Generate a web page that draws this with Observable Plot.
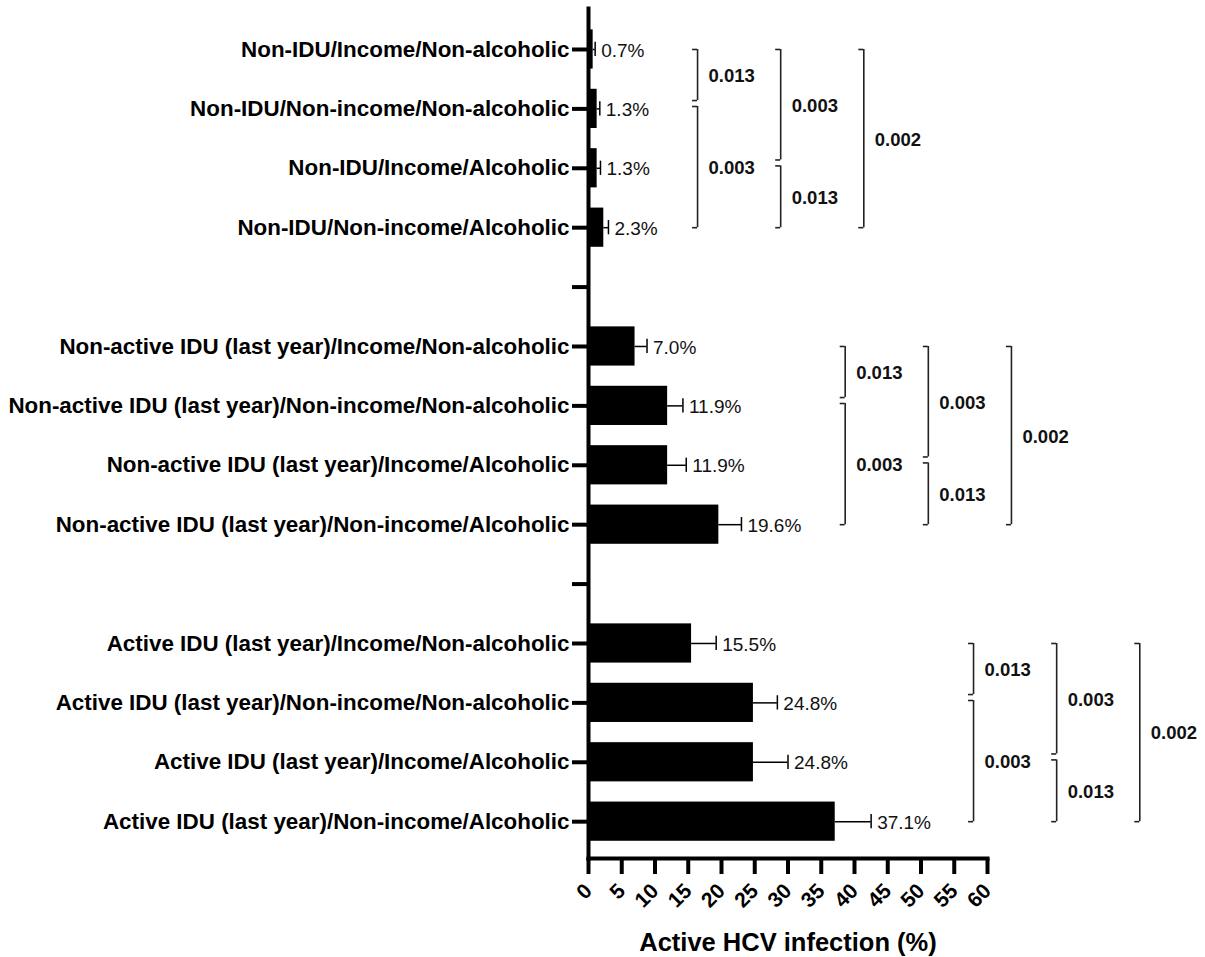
<!DOCTYPE html>
<html>
<head>
<meta charset="utf-8">
<script src="https://cdn.jsdelivr.net/npm/d3@7"></script>
<script src="https://cdn.jsdelivr.net/npm/@observablehq/plot@0.6"></script>
<style>
  html, body { margin: 0; padding: 0; background: #fff; }
  #chart svg { display: block; }
</style>
</head>
<body>
<div id="chart"></div>
<script>
// Row labels (top to bottom), "" marks the empty gap rows between groups
const rowLabels = [
  "Non-IDU/Income/Non-alcoholic",
  "Non-IDU/Non-income/Non-alcoholic",
  "Non-IDU/Income/Alcoholic",
  "Non-IDU/Non-income/Alcoholic",
  "",
  "Non-active IDU (last year)/Income/Non-alcoholic",
  "Non-active IDU (last year)/Non-income/Non-alcoholic",
  "Non-active IDU (last year)/Income/Alcoholic",
  "Non-active IDU (last year)/Non-income/Alcoholic",
  "",
  "Active IDU (last year)/Income/Non-alcoholic",
  "Active IDU (last year)/Non-income/Non-alcoholic",
  "Active IDU (last year)/Income/Alcoholic",
  "Active IDU (last year)/Non-income/Alcoholic"
];
// Active HCV infection (%) per non-empty row
const values   = [0.7, 1.3, 1.3, 2.3, 7.0, 11.9, 11.9, 19.6, 15.5, 24.8, 24.8, 37.1];
// upper end of the error bars
const upper    = [1.0, 1.7, 1.8, 3.0, 8.8, 14.2, 14.7, 23.0, 19.2, 28.4, 30.0, 42.5];
const xTicks   = [0, 5, 10, 15, 20, 25, 30, 35, 40, 45, 50, 55, 60];

// Significance brackets: rows within a group (0..3), level (column), p-value label
const bracketFrom   = [0, 1, 0, 2, 0];
const bracketTo     = [1, 3, 2, 3, 3];
const bracketLevel  = [0, 0, 1, 1, 2];
const bracketPs     = ["0.013", "0.003", "0.003", "0.013", "0.002"];
// x (in % units) of the first bracket column for each group, spacing between columns
const groupBracketX = [16.4, 38.6, 57.9];
const bracketStep   = 12.5;

// ---- build tables
const rowIndex = rowLabels.map((l, i) => i).filter(i => rowLabels[i] !== "");
const bars = values.map((v, k) => ({row: rowIndex[k], value: v, hi: upper[k], text: v.toFixed(1) + "%"}));

const brackets = [];
groupBracketX.forEach((gx, g) => {
  const base = g * 5;
  bracketFrom.forEach((f, b) => {
    const endsAtShared = bracketLevel.some((lv, o) => o !== b && lv === bracketLevel[b] && bracketFrom[o] === bracketTo[b]);
    const startsAtShared = bracketLevel.some((lv, o) => o !== b && lv === bracketLevel[b] && bracketTo[o] === bracketFrom[b]);
    const y1 = base + f - (startsAtShared ? 0.04 : 0);
    const y2 = base + bracketTo[b] - (endsAtShared ? 0.14 : 0);
    brackets.push({x: gx + bracketLevel[b] * bracketStep, y1, y2, mid: (y1 + y2) / 2, p: bracketPs[b]});
  });
});
const bracketEnds = brackets.flatMap(d => [{x: d.x, y: d.y1}, {x: d.x, y: d.y2}]);

const FONT = "'Liberation Sans', Arial, Helvetica, sans-serif";

const plot = Plot.plot({
  width: 1205,
  height: 957,
  marginLeft: 588,
  marginRight: 218,
  marginTop: 8,
  marginBottom: 99,
  style: {fontFamily: FONT, color: "#000", background: "#fff", overflow: "visible"},
  x: {domain: [0, 60]},
  y: {domain: [-0.69, 13.62], reverse: true},
  marks: [
    // bars
    Plot.rectX(bars, {x1: 0, x2: "value", y1: d => d.row - 0.33, y2: d => d.row + 0.33, fill: "#000"}),
    // error bars
    Plot.ruleY(bars, {y: "row", x1: "value", x2: "hi", stroke: "#000", strokeWidth: 1.5}),
    Plot.ruleX(bars, {x: "hi", y1: d => d.row - 0.12, y2: d => d.row + 0.12, stroke: "#000", strokeWidth: 1.5}),
    // value labels
    Plot.text(bars, {x: "hi", y: "row", text: "text", textAnchor: "start", dx: 6, dy: 1, fontSize: 19, fill: "#111"}),
    // brackets
    Plot.ruleX(brackets, {x: "x", y1: "y1", y2: "y2", stroke: "#222", strokeWidth: 1.6}),
    Plot.ruleY(bracketEnds, {y: "y", x1: d => d.x - 0.75, x2: "x", stroke: "#222", strokeWidth: 1.6}),
    Plot.text(brackets, {x: "x", y: "mid", text: "p", textAnchor: "start", dx: 11, dy: 1, fontSize: 18.5, fontWeight: "bold", fill: "#111"}),
    // axes
    Plot.axisY({
      ticks: rowLabels.map((l, i) => i),
      tickFormat: i => rowLabels[i],
      tickSize: 16, tickPadding: 3, strokeWidth: 4,
      fontSize: 22.4, fontWeight: "bold", label: null
    }),
    Plot.axisX({
      ticks: xTicks,
      tickSize: 16, tickPadding: 13, strokeWidth: 4, tickRotate: -45,
      fontSize: 21, fontWeight: "bold",
      label: "Active HCV infection (%)", labelAnchor: "center", labelArrow: "none",
      labelOffset: 92
    }),
    Plot.frame({anchor: "left", strokeWidth: 4, stroke: "#000"}),
    Plot.frame({anchor: "bottom", strokeWidth: 4, stroke: "#000"})
  ]
});

document.getElementById("chart").appendChild(plot);

// bigger axis title
const lbl = [...plot.querySelectorAll("text")].find(t => t.textContent === "Active HCV infection (%)");
if (lbl) { lbl.setAttribute("font-size", 25.5); lbl.setAttribute("font-weight", "bold"); }
</script>
</body>
</html>
